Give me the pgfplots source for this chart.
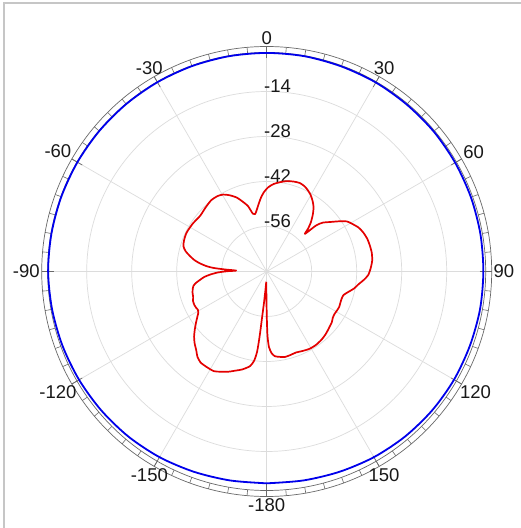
\documentclass[border=0pt]{standalone}
\usepackage{pgfplots}
\usepackage{pgfplotstable}
\pgfplotsset{compat=1.18}
\usetikzlibrary{calc}
\usepackage{fontspec}
\setmainfont{Liberation Sans}
\definecolor{redline}{RGB}{228,0,0}
\definecolor{blueline}{RGB}{0,0,235}
\definecolor{gridgray}{RGB}{220,220,220}
\definecolor{ringgray}{RGB}{105,105,105}

\pgfplotstableread{
ang db
-180 -4.1
-170 -4.0
-160 -3.7
-150 -3.3
-140 -3.0
-130 -2.8
-120 -2.6
-110 -2.4
-100 -2.2
-90 -2.0
-80 -2.0
-70 -2.0
-60 -2.0
-50 -2.0
-40 -2.0
-30 -2.0
-20 -2.0
-10 -2.0
0 -2.0
10 -2.0
20 -2.1
30 -2.1
40 -2.2
50 -2.2
60 -2.3
70 -2.4
80 -2.5
90 -2.6
100 -2.6
110 -2.7
120 -2.7
130 -2.8
140 -3.0
150 -3.3
160 -3.7
170 -4.0
180 -4.1
}\bluedata

\pgfplotstableread{
ang db
-177.5 -66.8
-176 -64
-175 -60
-174.3 -56
-173.8 -50
-173.2 -45
-172 -42
-170 -40.1
-166 -38.6
-163 -37.8
-159 -36.6
-155 -35.6
-152 -34.9
-148 -34.9
-144 -35.0
-141 -35.8
-138 -37.2
-135 -38.3
-132 -39.6
-129 -41.2
-126 -42.8
-123 -44.3
-121 -45.2
-119 -45.5
-117 -45.3
-115 -45.2
-112 -45.3
-109 -45.8
-106 -46.0
-103 -46.4
-101 -46.8
-99 -47.8
-97 -49.2
-95 -50.5
-93 -52.5
-91 -55
-89.5 -58
-88.3 -60.5
-87.2 -57
-86.2 -53.5
-85 -51.3
-83 -49
-81 -47.2
-78.7 -45.7
-76 -44
-73 -42.9
-69 -42.5
-64 -42.3
-57 -42.6
-50 -43.0
-44 -42.5
-38 -41.9
-33 -42.0
-29.5 -42.5
-26 -43.6
-22 -45.2
-19 -47
-16 -48.8
-13.5 -51.5
-11.5 -51.8
-9.5 -50.8
-7 -49
-4.5 -47
-2 -45.3
1 -43.8
4.5 -42.7
8.5 -41.9
12.5 -41.2
16.5 -40.8
20.5 -40.6
24 -41.0
27 -41.7
30 -42.6
33 -43.8
36 -45.2
39 -47.2
42 -49.5
44 -51.5
45.5 -53.3
47 -49
49 -46.8
52 -45
55 -42.8
58 -40.6
61 -39.5
64.5 -38.3
68 -37.6
72 -37.1
76 -36.9
80 -36.8
84 -37.0
88 -37.6
92 -38.4
95 -39.7
98 -41.2
101 -42.3
104 -43.8
107 -45.0
110 -45.2
113 -45.1
116 -44.9
119 -45.0
122 -45.1
125 -44.9
128 -44.3
131 -44.0
134 -43.6
137 -43.2
141 -42.8
146 -42.5
151 -42.5
156 -42.9
160 -43.2
164 -43.0
168 -42.8
171 -43.1
174.4 -43.5
176.5 -44.5
178.3 -46.5
179.3 -50
179.8 -55
180.3 -60
181 -64
182.5 -66.8
}\reddata

\begin{document}
\begin{tikzpicture}[lab/.style={font=\fontsize{18.5}{19}\selectfont, text=black!90}]
\path[use as bounding box] (0,0) rectangle (521pt,528pt);
\fill[white] (0,0) rectangle (521pt,528pt);
\draw[gray!45, line width=1.2pt] (4pt,0) -- (4pt,525pt) -- (521pt,525pt);
\coordinate (O) at (266.7pt,256.5pt);
% grid circles
\foreach \rr in {45pt,90pt,135pt,180pt} {
  \draw[gridgray, line width=0.7pt] (O) circle[radius=\rr];
}
% spokes
\foreach \a in {0,30,...,330} {
  \draw[gridgray, line width=0.7pt] (O) -- ++(\a:219pt);
}
% ring
\draw[ringgray, line width=0.7pt] (O) circle[radius=225pt];
\draw[ringgray, line width=0.7pt] (O) circle[radius=219pt];
\foreach \a in {0,5,...,355} {
  \draw[ringgray, line width=0.6pt] ($(O)+(\a:219pt)$) -- ($(O)+(\a:225pt)$);
}
\foreach \a in {0,30,...,330} {
  \draw[ringgray, line width=0.7pt] ($(O)+(\a:213pt)$) -- ($(O)+(\a:225pt)$);
}
% angle labels
\foreach \pp/\lb in {90/0, 60/30, 30/60, 0/90, -30/120, -60/150, -90/-180, -120/-150, -150/-120, 180/-90, 150/-60, 120/-30} {
  \pgfmathtruncatemacro{\an}{mod(\pp+540,360)}
  \node[lab, inner sep=0.8pt, anchor=\an] at ($(O)+(\pp:226pt)$) {\lb};
}
% radial labels
\foreach \rr/\lb in {179pt/-14, 134pt/-28, 89pt/-42, 44pt/-56} {
  \node[lab, inner sep=0pt, anchor=base west] at ($(O)+(-2.8pt,\rr)$) {\lb};
}
\begin{axis}[
  at={(266.7pt,256.5pt)}, anchor=center,
  width=450pt, height=450pt, scale only axis,
  xmin=-70, xmax=70, ymin=-70, ymax=70,
  axis lines=none, clip=false,
]
\addplot[no markers, blueline, line width=1.8pt, smooth, data cs=polar] table[x expr=90-\thisrow{ang}, y expr=\thisrow{db}+70] {\bluedata};
\addplot[no markers, redline, line width=1.7pt, smooth, tension=0.4, line join=round, data cs=polar] table[x expr=90-\thisrow{ang}, y expr=\thisrow{db}+70] {\reddata};
\end{axis}
\end{tikzpicture}
\end{document}
